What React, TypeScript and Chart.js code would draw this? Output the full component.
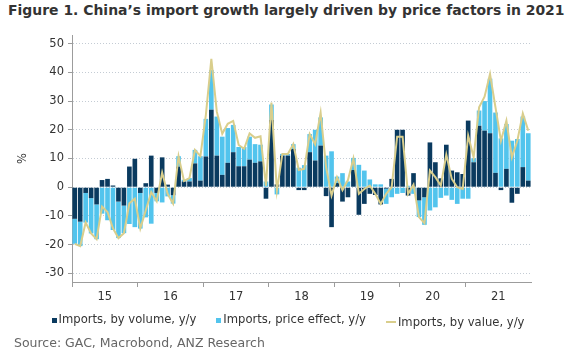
import React, { useEffect, useRef } from 'react';
import { Chart, registerables } from 'chart.js';

Chart.register(...registerables);

const years = ['15', '16', '17', '18', '19', '20', '21'];
const monthNames = ['01', '02', '03', '04', '05', '06', '07', '08', '09', '10', '11', '12'];
const categories: string[] = [];
years.forEach((y) => monthNames.forEach((m) => categories.push(`${y}-${m}`)));

const yTicks = [-30, -20, -10, 0, 10, 20, 30, 40, 50];

// Imports by volume, y/y (%)
const volume = [
  -11, -12, -2, -3.8, -6, 2.5, 2.9, 0.6, -5, -6.4, 7.2, 9.9,
  -2, 1.4, 11, -2, 10.4, 0.9, -2.8, 7.2, 2, 2, 8.3, 2.3,
  10.7, 27, 11, 4.3, 8.5, 12.2, 7.3, 7.3, 9.6, 8.5, 9, -4,
  23.4, 1, 11, 11, 13.3, -1, -1, 12.2, 9.3, 14.5, -3.1, -13.9,
  1.5, -5, -3.5, 6, -9.6, -5.8, -2.3, -2.7, -6, -0.5, 2.9, 20,
  20, -2.9, 4.9, -4.6, -3.5, 15.6, 8.7, 3.1, 14.8, 5.8, 5.2, 4.6,
  23.2, 8.7, 21.4, 19.7, 18.8, 5, -1, 6.4, -5.4, -2.3, 7, 2.3,
];

// Imports, price effect, y/y (%)
const priceEffect = [
  -8.7, -8.5, -10.3, -12.3, -12.1, -9.2, -11.5, -14.9, -12.7, -9.6, -12.8, -13.9,
  -12.4, -10.5, -12.7, -2.9, -5.3, -3.2, -2.9, 3.6, 0.6, 1.2, 4.7, 8.5,
  13.1, 13.8, 13.6, 13.3, 12.1, 9.5, 6.7, 6.7, 8, 6.5, 5.8, 2,
  5.4, -2.5, 0.6, 0.6, 1.7, 6.8, 7.7, 6.3, 10.7, 9.8, 11, 12.5,
  2.2, 4.9, 2, 4.2, 7.8, 5.8, 2.7, 1, 1, -5.3, -3.5, -2.3,
  -2, 0.5, -2.3, -5.8, -9.6, -8.1, -7, -3.7, -2.9, -4.4, -5.8, -4,
  -4, 1.4, 5.3, 10.3, 19, 21, 17, 15.6, 16.2, 16.8, 17.6, 16.5,
];

// Imports by value, y/y (%)
const value = [
  -19.7, -20.5, -12.3, -16.1, -18.1, -6.7, -8.6, -14.3, -17.7, -16, -5.6, -4,
  -14.4, -8, -1.7, -4.9, 5.1, -2.3, -5.7, 10.8, 2.2, 3.2, 13, 10.8,
  25.2, 44.7, 26.3, 18.6, 22.1, 23.1, 14.7, 13.4, 18.7, 17.2, 17.7, 0.5,
  29.5, -1.2, 11.6, 11.6, 15, 6, 6.4, 18.5, 15, 26, 7, -2.9,
  3.5, -1, 2.5, 10, -2.3, -0.6, 0.6, -2.3, -5.8, -2.3, 0, 17.6,
  17.6, -2.4, 0.9, -10.4, -12.5, 5.8, 3.5, 0.6, 11.4, 2.9, 0, -0.6,
  18, 10.4, 27.8, 31.5, 39.4, 27.8, 16.2, 23.2, 10.4, 16.2, 25.7, 19.7,
];

const NAVY = '#0a3a5f';
const SKY = '#52c4ed';
const KHAKI = '#d9ce8c';
const AXIS = '#9c9c9c';
const FONT = "'DejaVu Sans', Verdana, sans-serif";

export default function App() {
  const ref = useRef<HTMLCanvasElement>(null);

  useEffect(() => {
    if (!ref.current) return;
    const chart = new Chart(ref.current, {
      type: 'bar',
      data: {
        labels: categories,
        datasets: [
          {
            type: 'line',
            label: 'Imports, by value, y/y',
            data: value,
            borderColor: KHAKI,
            backgroundColor: KHAKI,
            borderWidth: 2,
            pointRadius: 0,
            tension: 0,
            stack: 'value',
            order: 0,
          } as any,
          {
            type: 'bar',
            label: 'Imports, by volume, y/y',
            data: volume,
            backgroundColor: NAVY,
            stack: 'bars',
            order: 1,
            barPercentage: 0.85,
            categoryPercentage: 1,
          },
          {
            type: 'bar',
            label: 'Imports, price effect, y/y',
            data: priceEffect,
            backgroundColor: SKY,
            stack: 'bars',
            order: 1,
            barPercentage: 0.85,
            categoryPercentage: 1,
          },
        ],
      },
      options: {
        animation: false,
        responsive: false,
        devicePixelRatio: 1,
        layout: { padding: { left: 0, right: 45, top: 35, bottom: 51 } },
        plugins: {
          legend: { display: false },
          title: { display: false },
          tooltip: { enabled: false },
        },
        scales: {
          x: {
            stacked: true,
            offset: true,
            border: { display: true, color: AXIS, width: 1 },
            grid: {
              offset: true,
              drawOnChartArea: false,
              tickLength: 5,
              color: (ctx: any) => (ctx.index % 12 === 0 ? AXIS : 'rgba(0,0,0,0)'),
              tickColor: (ctx: any) => (ctx.index % 12 === 0 ? AXIS : 'rgba(0,0,0,0)'),
            },
            ticks: {
              autoSkip: false,
              maxRotation: 0,
              minRotation: 0,
              padding: 3,
              labelOffset: -2.7,
              color: '#333',
              font: { family: FONT, size: 11.5 },
              callback: (_v: any, i: number) => (i % 12 === 6 ? years[Math.floor(i / 12)] : ''),
            },
            afterFit: (s: any) => {
              s.height = 25;
            },
          },
          y: {
            stacked: true,
            min: -33,
            max: 53,
            border: { display: true, color: AXIS, width: 1, dash: [1, 2] },
            grid: {
              color: '#c4ccd4',
              lineWidth: 1,
              tickLength: 4,
              tickColor: AXIS,
              tickBorderDash: [],
            } as any,
            afterBuildTicks: (axis: any) => {
              axis.ticks = yTicks.map((v) => ({ value: v }));
            },
            ticks: {
              padding: 4,
              color: '#333',
              font: { family: FONT, size: 11.5 },
            },
            title: {
              display: true,
              text: '%',
              color: '#333',
              font: { family: FONT, size: 11.5 },
              padding: { top: 16, bottom: 0 },
            },
            afterFit: (s: any) => {
              s.width = 72;
            },
          },
        },
      },
    });
    return () => chart.destroy();
  }, []);

  const legendItem = (marker: React.ReactNode, text: string) => (
    <span style={{ display: 'inline-flex', alignItems: 'center', margin: '0 10px' }}>
      {marker}
      <span>{text}</span>
    </span>
  );
  const square = (c: string) => (
    <span style={{ display: 'inline-block', width: 5, height: 5, background: c, marginRight: 2, marginTop: 3 }} />
  );

  return (
    <div style={{ position: 'absolute', left: 0, top: 0, width: 576, height: 358, background: '#fff', fontFamily: FONT }}>
      <div style={{ position: 'absolute', left: 8, top: 2, fontWeight: 'bold', fontSize: 13.95, color: '#333', whiteSpace: 'nowrap' }}>
        Figure 1. China’s import growth largely driven by price factors in 2021
      </div>
      <canvas ref={ref} width={576} height={358} style={{ position: 'absolute', left: 0, top: 0, width: 576, height: 358 }} />
      <div style={{ position: 'absolute', left: 0, top: 312, width: 576, textAlign: 'center', fontSize: 11.6, color: '#333', whiteSpace: 'nowrap' }}>
        {legendItem(square(NAVY), 'Imports, by volume, y/y')}
        {legendItem(square(SKY), 'Imports, price effect, y/y')}
        {legendItem(<span style={{ display: 'inline-block', width: 10, height: 2, background: KHAKI, marginRight: 2 }} />, 'Imports, by value, y/y')}
      </div>
      <div style={{ position: 'absolute', left: 14, top: 335, fontSize: 12.5, color: '#666', whiteSpace: 'nowrap' }}>
        Source: GAC, Macrobond, ANZ Research
      </div>
    </div>
  );
}
